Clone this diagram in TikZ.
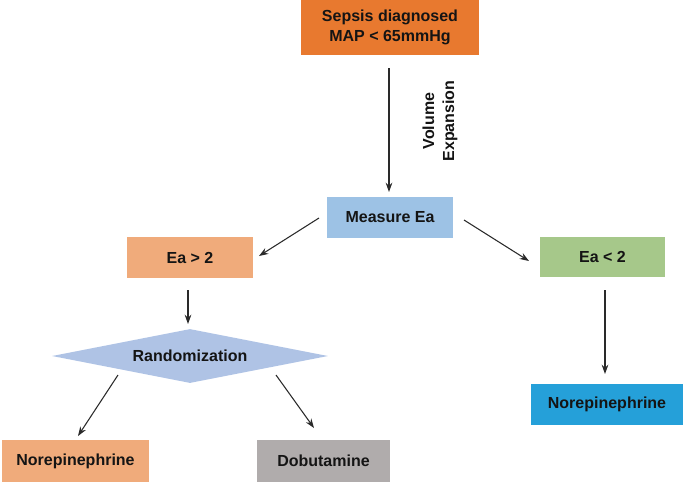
\documentclass[tikz,border=0pt]{standalone}
\usepackage{fontspec}
\setmainfont{Liberation Sans}
\usetikzlibrary{shapes.geometric,arrows.meta}
\definecolor{cOrange}{HTML}{E8792F}
\definecolor{cBlue}{HTML}{9DC2E5}
\definecolor{cSalmon}{HTML}{F0AB7B}
\definecolor{cGreen}{HTML}{A6C88A}
\definecolor{cDiam}{HTML}{AFC3E5}
\definecolor{cGray}{HTML}{B0ACAC}
\definecolor{cCyan}{HTML}{25A0D9}
\definecolor{cLine}{HTML}{2A2A2A}
\definecolor{cText}{HTML}{141414}
\tikzset{
  box/.style={draw=none, minimum width=#1*0.75pt, font=\fontsize{12pt}{14.5pt}\selectfont\bfseries, text=cText, align=center, inner sep=0pt},
  conn/.style={draw=cLine, line width=0.8pt, -{Stealth[length=7pt,width=5pt]}},
}
\begin{document}
\begin{tikzpicture}[x=0.75pt,y=-0.75pt]
\useasboundingbox (0,0) rectangle (685,483);
% boxes
\node[box=178, minimum height=55*0.75pt, fill=cOrange] (sep) at (390,27.5) {Sepsis diagnosed\\MAP < 65mmHg};
\node[box=126, minimum height=41*0.75pt, fill=cBlue] (mea) at (390,217.5) {Measure Ea};
\node[box=126, minimum height=41*0.75pt, fill=cSalmon] (gt) at (190,257.5) {Ea > 2};
\node[box=125, minimum height=40*0.75pt, fill=cGreen] (lt) at (602.5,257) {Ea < 2};
\node[diamond, aspect=5.1, fill=cDiam, minimum width=276*0.75pt, minimum height=54*0.75pt, inner sep=0pt, font=\fontsize{12pt}{14.5pt}\selectfont\bfseries, text=cText] (ran) at (190,356) {Randomization};
\node[box=147, minimum height=42*0.75pt, fill=cSalmon] (nl) at (75.5,461) {Norepinephrine};
\node[box=133, minimum height=42*0.75pt, fill=cGray] (dob) at (323.5,461) {Dobutamine};
\node[box=152, minimum height=41*0.75pt, fill=cCyan] (nr) at (607,404.5) {Norepinephrine};
\node[rotate=90, font=\fontsize{12pt}{15pt}\selectfont\bfseries, text=cText, align=center, inner sep=0pt] (vol) at (440,121) {Volume\\Expansion};
% coordinates for connector ends
\coordinate (a1) at (389,68);
\coordinate (a1e) at (389,192);
\coordinate (b1) at (319,218);
\coordinate (b1e) at (259,256);
\coordinate (c1) at (464,220);
\coordinate (c1e) at (529,261);
\coordinate (d1) at (188,290);
\coordinate (d1e) at (188,324);
\coordinate (e1) at (118,375);
\coordinate (e1e) at (78,436);
\coordinate (f1) at (276,375);
\coordinate (f1e) at (314,428);
\coordinate (g1) at (605,290);
\coordinate (g1e) at (605,374);
% connectors
\draw[conn] (a1) -- (a1e);
\draw[conn] (b1) -- (b1e);
\draw[conn] (c1) -- (c1e);
\draw[conn] (d1) -- (d1e);
\draw[conn] (e1) -- (e1e);
\draw[conn] (f1) -- (f1e);
\draw[conn] (g1) -- (g1e);
\end{tikzpicture}
\end{document}
